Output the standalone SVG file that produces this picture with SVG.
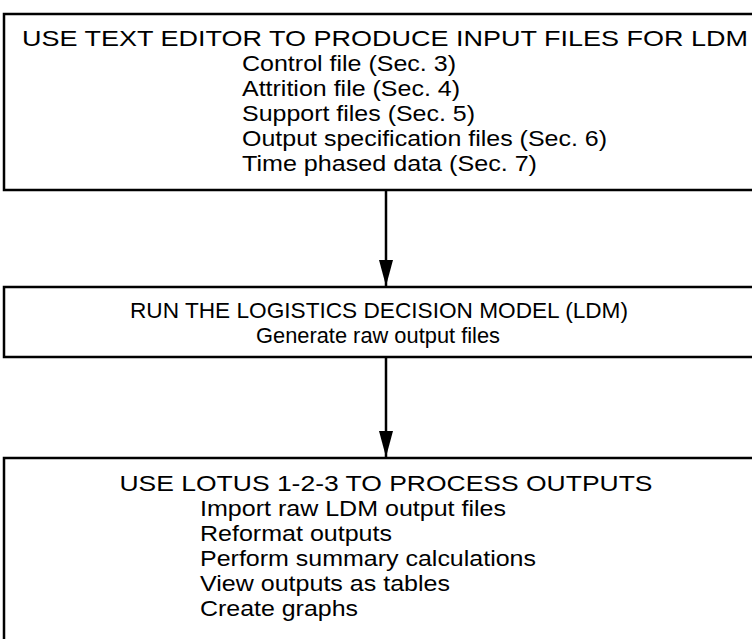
<svg xmlns="http://www.w3.org/2000/svg" width="752" height="639" viewBox="0 0 752 639">
<style>
  .box { fill: none; stroke: #000; stroke-width: 2.5; }
  .t { font-family: "Liberation Sans", Arial, Helvetica, sans-serif; font-size: 22px; fill: #000; }
  .c { text-anchor: middle; }
  .conn { stroke: #000; stroke-width: 2.5; fill: none; }
</style>
<defs>
  <marker id="arr" viewBox="0 0 26 14" refX="26" refY="7" markerWidth="26" markerHeight="14" markerUnits="userSpaceOnUse" orient="auto">
    <path d="M0,0 L26,7 L0,14 Z" fill="#000"/>
  </marker>
</defs>
<rect width="752" height="639" fill="#fff"/>
<g id="node-input">
  <path class="box" d="M760,14 L4,14 L4,190 L760,190"/>
  <text class="t c" x="385" y="46" textLength="726" lengthAdjust="spacingAndGlyphs">USE TEXT EDITOR TO PRODUCE INPUT FILES FOR LDM</text>
  <text class="t" x="242" y="71" textLength="214" lengthAdjust="spacingAndGlyphs">Control file (Sec. 3)</text>
  <text class="t" x="242" y="96" textLength="218" lengthAdjust="spacingAndGlyphs">Attrition file (Sec. 4)</text>
  <text class="t" x="242" y="121" textLength="233" lengthAdjust="spacingAndGlyphs">Support files (Sec. 5)</text>
  <text class="t" x="242" y="146" textLength="365" lengthAdjust="spacingAndGlyphs">Output specification files (Sec. 6)</text>
  <text class="t" x="242" y="171" textLength="295" lengthAdjust="spacingAndGlyphs">Time phased data (Sec. 7)</text>
</g>
<g id="node-run">
  <path class="box" d="M760,287 L4,287 L4,357 L760,357"/>
  <text class="t c" x="379" y="318" textLength="498" lengthAdjust="spacingAndGlyphs">RUN THE LOGISTICS DECISION MODEL (LDM)</text>
  <text class="t c" x="378" y="343" textLength="244" lengthAdjust="spacingAndGlyphs">Generate raw output files</text>
</g>
<g id="node-lotus">
  <path class="box" d="M760,458 L4,458 L4,645"/>
  <text class="t c" x="386" y="491" textLength="533" lengthAdjust="spacingAndGlyphs">USE LOTUS 1-2-3 TO PROCESS OUTPUTS</text>
  <text class="t" x="200" y="516" textLength="306" lengthAdjust="spacingAndGlyphs">Import raw LDM output files</text>
  <text class="t" x="200" y="541" textLength="192" lengthAdjust="spacingAndGlyphs">Reformat outputs</text>
  <text class="t" x="200" y="566" textLength="336" lengthAdjust="spacingAndGlyphs">Perform summary calculations</text>
  <text class="t" x="200" y="591" textLength="250" lengthAdjust="spacingAndGlyphs">View outputs as tables</text>
  <text class="t" x="200" y="616" textLength="158" lengthAdjust="spacingAndGlyphs">Create graphs</text>
</g>
<g id="connectors">
  <line class="conn" x1="386" y1="190" x2="386" y2="286" marker-end="url(#arr)"/>
  <line class="conn" x1="386" y1="357" x2="386" y2="457" marker-end="url(#arr)"/>
</g>
</svg>
